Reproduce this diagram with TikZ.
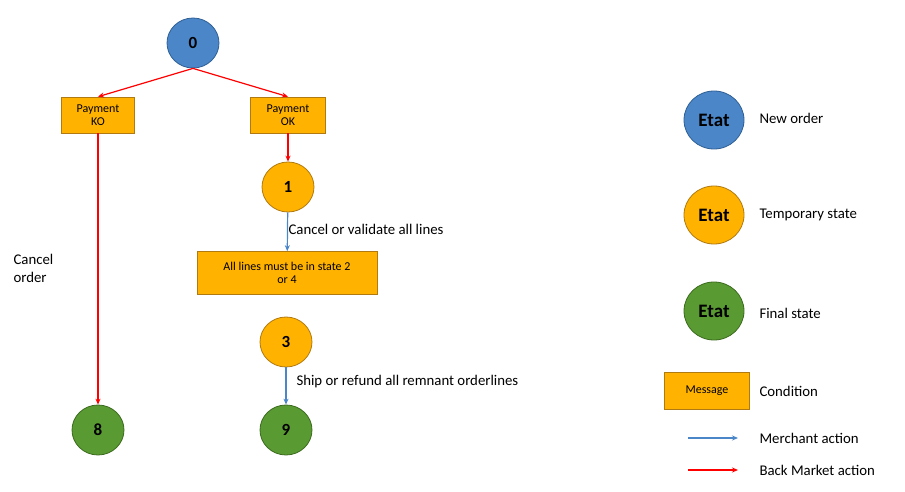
\documentclass[tikz,border=0pt]{standalone}
\usepackage{fontspec}
\setmainfont{Carlito}
\usetikzlibrary{shapes.geometric,arrows.meta}
\definecolor{bl}{HTML}{4A86C8}\definecolor{blb}{HTML}{2F5F95}
\definecolor{or}{HTML}{FFB300}\definecolor{orb}{HTML}{B07A10}
\definecolor{gr}{HTML}{5A9A32}\definecolor{grb}{HTML}{3B6B1E}
\definecolor{mer}{HTML}{4A86C8}
\begin{document}
\begin{tikzpicture}[x=1pt,y=-1pt,
 st/.style={ellipse,minimum width=52,minimum height=50,line width=0.8pt,font=\fontsize{17}{17}\selectfont\bfseries,inner sep=0},
 blue/.style={st,fill=bl,draw=blb},
 orange/.style={st,fill=or,draw=orb},
 green/.style={st,fill=gr,draw=grb},
 big/.style={minimum width=60,minimum height=58,font=\fontsize{19}{19}\selectfont\bfseries},
 box/.style={draw=orb,fill=or,line width=0.6pt,align=center,font=\fontsize{12}{13}\selectfont,inner sep=2pt},
 ra/.style={red,line width=1.2pt,-{Stealth[length=6pt,width=5pt]}},
 ba/.style={mer,line width=1.2pt,-{Stealth[length=6pt,width=5pt]}},
 lab/.style={anchor=west,font=\fontsize{14.8}{18}\selectfont,align=left}]
\useasboundingbox (0,0) rectangle (905,492);
\node[blue] (n0) at (193,43) {0};
\node[box,minimum width=73,minimum height=36] (ko) at (98,115) {Payment\\KO};
\node[box,minimum width=75,minimum height=36] (ok) at (288,115) {Payment\\OK};
\node[orange] (n1) at (288,187) {1};
\node[box,minimum width=180,minimum height=43] (all) at (287,273) {All lines must be in state 2\\or 4};
\node[orange] (n3) at (286,342) {3};
\node[green] (n9) at (286,430) {9};
\node[green] (n8) at (98,430) {8};
\draw[ra] (n0.south) -- (ko.north);
\draw[ra] (n0.south) -- (ok.north);
\draw[ra] (ok) -- (n1);
\draw[ba] (n1) -- (all);
\draw[ba] (n3) -- (n9);
\draw[ra] (ko) -- (n8);
\node[lab] (l1) at (285,229) {Cancel or validate all lines};
\node[lab] (l2) at (293,382) {Ship or refund all remnant orderlines};
\node[lab] (l3) at (10,268) {Cancel\\order};
\node[blue,big] (e1) at (714,120) {Etat};
\node[orange,big] (e2) at (714,215) {Etat};
\node[green,big] (e3) at (714,311) {Etat};
\node[box,minimum width=85,minimum height=37] (m) at (707,391) {Message};
\node[lab] (t1) at (756,118) {New order};
\node[lab] (t2) at (756,215) {Temporary state};
\node[lab] (t3) at (756,313) {Final state};
\node[lab] (t4) at (756,391) {Condition};
\node[lab] (t5) at (756,438) {Merchant action};
\node[lab] (t6) at (756,470) {Back Market action};
\coordinate (a1) at (688,438); \coordinate (a2) at (738,438);
\coordinate (b1) at (688,470); \coordinate (b2) at (738,470);
\draw[ba] (a1) -- (a2);
\draw[ra] (b1) -- (b2);
\end{tikzpicture}
\end{document}
